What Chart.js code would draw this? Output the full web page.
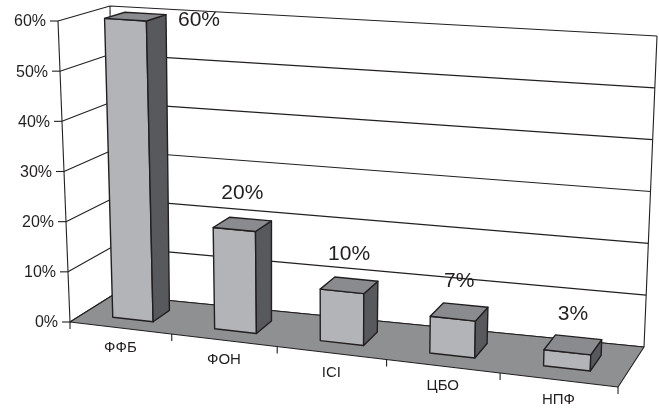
<!DOCTYPE html>
<html>
<head>
<meta charset="utf-8">
<script src="https://cdn.jsdelivr.net/npm/chart.js@4"></script>
<style>
  body { margin: 0; background: #fff; }
  #wrap { width: 659px; height: 409px; }
</style>
</head>
<body>
<div id="wrap"><canvas id="shareChart" width="659" height="409"></canvas></div>
<script>
const categories = ["ФФБ", "ФОН", "ІСІ", "ЦБО", "НПФ"];
const shares = [60, 20, 10, 7, 3];
const yTicks = [0, 10, 20, 30, 40, 50, 60];
const yTickLabels = ["0%", "10%", "20%", "30%", "40%", "50%", "60%"];

// corners of the 3d box on screen (floor front/back, top front/back)
const box = {
  f0: [70, 322], f1: [618, 387], b0: [113, 295], b1: [644, 347],
  tf0: [58, 21], tf1: [628, 58], tb0: [110, 6], tb1: [657, 36]
};
const persK = -0.088;
const depth = [0.3, 0.7];

const ink = "#231f20";

function lerp(p, q, t) {
  return [p[0] + (q[0] - p[0]) * t, p[1] + (q[1] - p[1]) * t];
}

// x, z, v all 0..1
function project(x, z, v) {
  const s = x * (1 + persK) / (1 + persK * x);
  const floor = lerp(lerp(box.f0, box.f1, s), lerp(box.b0, box.b1, s), z);
  const top = lerp(lerp(box.tf0, box.tf1, s), lerp(box.tb0, box.tb1, s), z);
  return lerp(floor, top, v);
}

function poly(ctx, pts, fill) {
  ctx.beginPath();
  ctx.moveTo(pts[0][0], pts[0][1]);
  for (let i = 1; i < pts.length; i++) ctx.lineTo(pts[i][0], pts[i][1]);
  ctx.closePath();
  if (fill) {
    ctx.fillStyle = fill;
    ctx.fill();
  }
  ctx.stroke();
}

function line(ctx, p, q) {
  ctx.beginPath();
  ctx.moveTo(p[0], p[1]);
  ctx.lineTo(q[0], q[1]);
  ctx.stroke();
}

const perspective = {
  id: "perspective",
  afterDraw(chart) {
    const ctx = chart.ctx;
    const a = chart.chartArea;
    const xs = chart.scales.x;
    const ys = chart.scales.y;
    const fx = px => (px - a.left) / (a.right - a.left);
    const fv = py => (a.bottom - py) / (a.bottom - a.top);

    ctx.save();
    ctx.strokeStyle = ink;
    ctx.lineWidth = 1.1;
    ctx.lineJoin = "round";

    // walls: gridlines on left and back wall
    yTicks.forEach(t => {
      const v = fv(ys.getPixelForValue(t));
      const p0 = project(0, 0, v), p1 = project(0, 1, v), p2 = project(1, 1, v);
      ctx.beginPath();
      ctx.moveTo(p0[0], p0[1]);
      ctx.lineTo(p1[0], p1[1]);
      ctx.lineTo(p2[0], p2[1]);
      ctx.stroke();
      line(ctx, [p0[0] - 8, p0[1]], p0);
    });
    line(ctx, project(0, 1, 0), project(0, 1, 1));
    line(ctx, project(1, 1, 0), project(1, 1, 1));
    line(ctx, project(0, 0, 0), project(0, 0, 1));

    // floor
    poly(ctx, [project(0, 0, 0), project(1, 0, 0), project(1, 1, 0), project(0, 1, 0)], "#8f9092");

    // category ticks
    const half = (xs.getPixelForValue(1) - xs.getPixelForValue(0)) / 2;
    for (let i = 0; i <= categories.length; i++) {
      const p = project(fx(xs.getPixelForValue(0) - half + 2 * half * i), 0, 0);
      line(ctx, p, [p[0], p[1] + 7]);
    }

    // bars
    ctx.lineWidth = 1.4;
    const bars = chart.getDatasetMeta(0).data;
    const tops = [];
    bars.forEach(bar => {
      const xl = fx(bar.x - bar.width / 2);
      const xr = fx(bar.x + bar.width / 2);
      const v = fv(bar.y);
      const [z0, z1] = depth;
      poly(ctx, [project(xl, z0, 0), project(xr, z0, 0), project(xr, z0, v), project(xl, z0, v)], "#b3b4b8");
      poly(ctx, [project(xr, z0, 0), project(xr, z1, 0), project(xr, z1, v), project(xr, z0, v)], "#58595c");
      poly(ctx, [project(xl, z0, v), project(xr, z0, v), project(xr, z1, v), project(xl, z1, v)], "#8a8b8e");
      tops.push({
        center: project(fx(bar.x), 0.5, v),
        side: project(xr, z1, v),
        front: project(xl, z0, v)
      });
    });

    // text
    ctx.fillStyle = ink;
    ctx.font = "16px 'Liberation Sans', Arial, sans-serif";
    ctx.textAlign = "right";
    ctx.textBaseline = "middle";
    yTicks.forEach((t, i) => {
      const p = project(0, 0, fv(ys.getPixelForValue(t)));
      ctx.fillText(yTickLabels[i], p[0] - 12, p[1] + 1);
    });

    ctx.font = "15px 'Liberation Sans', Arial, sans-serif";
    ctx.textAlign = "center";
    categories.forEach((c, i) => {
      const p = project(fx(xs.getPixelForValue(i)), 0, 0);
      ctx.fillText(c, p[0], p[1] + 20);
    });

    ctx.font = "21px 'Liberation Sans', Arial, sans-serif";
    shares.forEach((val, i) => {
      const t = tops[i];
      let lx = t.center[0], ly = t.center[1] - 31;
      ctx.textAlign = "center";
      if (ly < 14) {
        ctx.textAlign = "left";
        lx = t.side[0] + 12;
        ly = t.front[1] + 2;
      }
      ctx.fillText(val + "%", lx, ly);
    });
    ctx.restore();
  }
};

new Chart(document.getElementById("shareChart"), {
  type: "bar",
  data: {
    labels: categories,
    datasets: [{
      data: shares,
      backgroundColor: "transparent",
      borderWidth: 0,
      categoryPercentage: 0.4,
      barPercentage: 1
    }]
  },
  options: {
    responsive: false,
    animation: false,
    layout: { padding: 0 },
    plugins: { legend: { display: false }, tooltip: { enabled: false } },
    scales: {
      x: { display: false },
      y: { display: false, min: 0, max: 60, ticks: { stepSize: 10 } }
    }
  },
  plugins: [perspective]
});
</script>
</body>
</html>
